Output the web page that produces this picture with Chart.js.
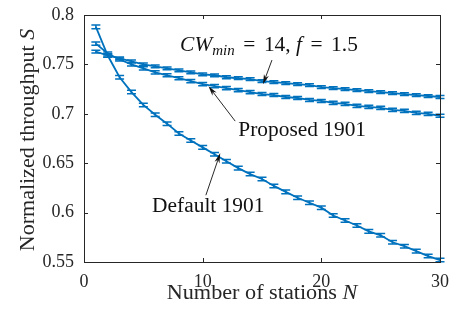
<!DOCTYPE html>
<html>
<head>
<meta charset="utf-8">
<title>Normalized throughput vs number of stations</title>
<script src="https://cdn.jsdelivr.net/npm/chart.js@4.4.0/dist/chart.umd.min.js"></script>
<style>
  html,body{margin:0;padding:0;background:#fff;}
  #wrap{width:453px;height:318px;position:relative;}
</style>
</head>
<body>
<div id="wrap"><canvas id="c"></canvas></div>
<script>
/* ---------------- data ---------------- */
const stations = [1,2,3,4,5,6,7,8,9,10,11,12,13,14,15,16,17,18,19,20,21,22,23,24,25,26,27,28,29,30];
const cwTuned  = [0.763,0.759,0.756,0.753,0.750,0.748,0.746,0.744,0.742,0.740,0.739,0.737,0.736,0.735,0.733,
                  0.732,0.731,0.730,0.729,0.727,0.726,0.725,0.724,0.723,0.722,0.721,0.720,0.719,0.718,0.717];
const proposed = [0.771,0.761,0.755,0.750,0.746,0.742,0.739,0.736,0.733,0.730,0.728,0.726,0.724,0.722,0.720,
                  0.719,0.717,0.716,0.714,0.713,0.711,0.710,0.708,0.707,0.706,0.704,0.703,0.701,0.700,0.698];
const defaultStd = [0.788,0.759,0.737,0.722,0.709,0.699,0.690,0.680,0.673,0.666,0.659,0.652,0.645,0.639,0.634,
                    0.627,0.621,0.615,0.610,0.605,0.597,0.592,0.587,0.581,0.577,0.570,0.566,0.561,0.556,0.552];
const errCw   = 0.0014;
const errProp = 0.0016;
const errDef  = 0.0018;
const xTicks = [0,10,20,30];
const yTicks = [0.55,0.6,0.65,0.7,0.75,0.8];
const yTickLabels = ['0.55','0.6','0.65','0.7','0.75','0.8'];

const blue = '#0072BD';
const ink = '#262626';
const serif = '"Liberation Serif", "DejaVu Serif", serif';
const textSize = 20;

const toPts = ys => stations.map((x,i)=>({x:x, y:ys[i]}));

/* ---------------- error bars ---------------- */
const errorBars = {
  id:'errorBars',
  afterDatasetsDraw(chart){
    const {ctx, scales:{x, y}} = chart;
    ctx.save();
    ctx.strokeStyle = blue;
    ctx.lineWidth = 1.5;
    chart.data.datasets.forEach(ds=>{
      ds.data.forEach(p=>{
        const px = x.getPixelForValue(p.x);
        const top = y.getPixelForValue(p.y + ds.err);
        const bot = y.getPixelForValue(p.y - ds.err);
        ctx.beginPath();
        ctx.moveTo(px, top); ctx.lineTo(px, bot);
        ctx.moveTo(px-4.5, top); ctx.lineTo(px+4.5, top);
        ctx.moveTo(px-4.5, bot); ctx.lineTo(px+4.5, bot);
        ctx.stroke();
      });
    });
    ctx.restore();
  }
};

/* ---------------- text helpers (italic / subscript runs) ---------------- */
function runWidth(ctx, parts, size, sx){
  let w = 0;
  parts.forEach(p=>{
    const s = p.sub ? size*0.7 : size;
    ctx.font = (p.it ? 'italic ' : '') + s + 'px ' + serif;
    w += (p.gap || 0) + ctx.measureText(p.t).width;
  });
  return w * sx;
}
function drawRun(ctx, parts, x, y, size, sx){
  ctx.save();
  ctx.translate(x, y);
  ctx.scale(sx, 1);
  let cx = 0;
  parts.forEach(p=>{
    const s = p.sub ? size*0.7 : size;
    ctx.font = (p.it ? 'italic ' : '') + s + 'px ' + serif;
    cx += p.gap || 0;
    ctx.fillText(p.t, cx, p.sub ? size*0.2 : 0);
    cx += ctx.measureText(p.t).width;
  });
  ctx.restore();
}

/* ---------------- box, inward ticks, axis titles ---------------- */
const frame = {
  id:'frame',
  afterDraw(chart){
    const {ctx, chartArea:a, scales:{x, y}} = chart;
    ctx.save();
    ctx.strokeStyle = ink;
    ctx.lineWidth = 1;
    ctx.strokeRect(a.left+0.5, a.top+0.5, a.right-a.left, a.bottom-a.top);
    ctx.beginPath();
    xTicks.forEach(v=>{
      const px = Math.round(x.getPixelForValue(v))+0.5;
      ctx.moveTo(px, a.bottom); ctx.lineTo(px, a.bottom-4);
      ctx.moveTo(px, a.top); ctx.lineTo(px, a.top+4);
    });
    yTicks.forEach(v=>{
      const py = Math.round(y.getPixelForValue(v))+0.5;
      ctx.moveTo(a.left, py); ctx.lineTo(a.left+4, py);
      ctx.moveTo(a.right, py); ctx.lineTo(a.right-4, py);
    });
    ctx.stroke();

    // axis titles
    ctx.fillStyle = ink;
    ctx.textBaseline = 'alphabetic';
    const xt = [{t:'Number of stations '},{t:'N', it:true}];
    const wx = runWidth(ctx, xt, textSize, 1.11);
    drawRun(ctx, xt, (a.left+a.right)/2 - wx/2, 299, textSize, 1.11);

    const yt = [{t:'Normalized throughput '},{t:'S', it:true}];
    const wy = runWidth(ctx, yt, textSize, 1.1);
    ctx.translate(34, 140);
    ctx.rotate(-Math.PI/2);
    drawRun(ctx, yt, -wy/2, 0, textSize, 1.1);
    ctx.restore();
  }
};

/* ---------------- annotations ---------------- */
const notes = [
  {parts:[{t:'CW',it:true},{t:'min',it:true,sub:true},{t:'=',gap:8},{t:'14,',gap:8},{t:'f',it:true,gap:5},{t:'=',gap:8},{t:'1.5',gap:8}],
   tx:8.1, ty:0.7635, from:[15.84,0.7544], to:[15.08,0.7298]},
  {parts:[{t:'Proposed 1901'}], tx:13.0, ty:0.6774, from:[12.74,0.6926], to:[10.49,0.7280]},
  {parts:[{t:'Default 1901'}], tx:5.74, ty:0.6004, from:[10.27,0.6176], to:[11.48,0.6602]}
];
const annotate = {
  id:'annotate',
  afterDraw(chart){
    const {ctx, scales:{x, y}} = chart;
    ctx.save();
    ctx.fillStyle = '#111';
    ctx.strokeStyle = '#111';
    ctx.textBaseline = 'alphabetic';
    notes.forEach(n=>{
      drawRun(ctx, n.parts, x.getPixelForValue(n.tx), y.getPixelForValue(n.ty), textSize, 1.07);
      const x0 = x.getPixelForValue(n.from[0]), y0 = y.getPixelForValue(n.from[1]);
      const x1 = x.getPixelForValue(n.to[0]),   y1 = y.getPixelForValue(n.to[1]);
      const ang = Math.atan2(y1-y0, x1-x0), c = Math.cos(ang), s = Math.sin(ang);
      ctx.lineWidth = 0.9;
      ctx.beginPath();
      ctx.moveTo(x0,y0);
      ctx.lineTo(x1-7*c, y1-7*s);
      ctx.stroke();
      ctx.beginPath();
      ctx.moveTo(x1,y1);
      ctx.lineTo(x1-10*c+2.6*s, y1-10*s-2.6*c);
      ctx.lineTo(x1-7*c, y1-7*s);
      ctx.lineTo(x1-10*c-2.6*s, y1-10*s+2.6*c);
      ctx.closePath();
      ctx.fill();
    });
    ctx.restore();
  }
};

/* ---------------- chart ---------------- */
new Chart(document.getElementById('c'), {
  type:'line',
  data:{
    datasets:[
      {label:'CWmin = 14, f = 1.5', data:toPts(cwTuned), err:errCw},
      {label:'Proposed 1901', data:toPts(proposed), err:errProp},
      {label:'Default 1901', data:toPts(defaultStd), err:errDef}
    ].map(d=>Object.assign(d,{borderColor:blue, borderWidth:1.8, pointRadius:0, tension:0, fill:false}))
  },
  options:{
    responsive:true,
    maintainAspectRatio:false,
    animation:false,
    layout:{padding:{top:15, right:13, left:0, bottom:0}},
    plugins:{legend:{display:false}, tooltip:{enabled:false}},
    scales:{
      x:{
        type:'linear', min:0, max:30,
        afterBuildTicks:s=>{ s.ticks = xTicks.map(v=>({value:v})); },
        afterFit:s=>{ s.height = 56; s.paddingLeft = 0; s.paddingRight = 0; },
        grid:{display:false, drawTicks:false},
        border:{display:false},
        ticks:{color:ink, padding:9, maxRotation:0, font:{family:serif, size:18}}
      },
      y:{
        min:0.55, max:0.8,
        afterBuildTicks:s=>{ s.ticks = yTicks.map(v=>({value:v})); },
        afterFit:s=>{ s.width = 84; s.paddingTop = 0; s.paddingBottom = 0; },
        grid:{display:false, drawTicks:false},
        border:{display:false},
        ticks:{color:ink, padding:10, font:{family:serif, size:18},
               callback:(v,i)=>yTickLabels[i]}
      }
    }
  },
  plugins:[errorBars, frame, annotate]
});
</script>
</body>
</html>
